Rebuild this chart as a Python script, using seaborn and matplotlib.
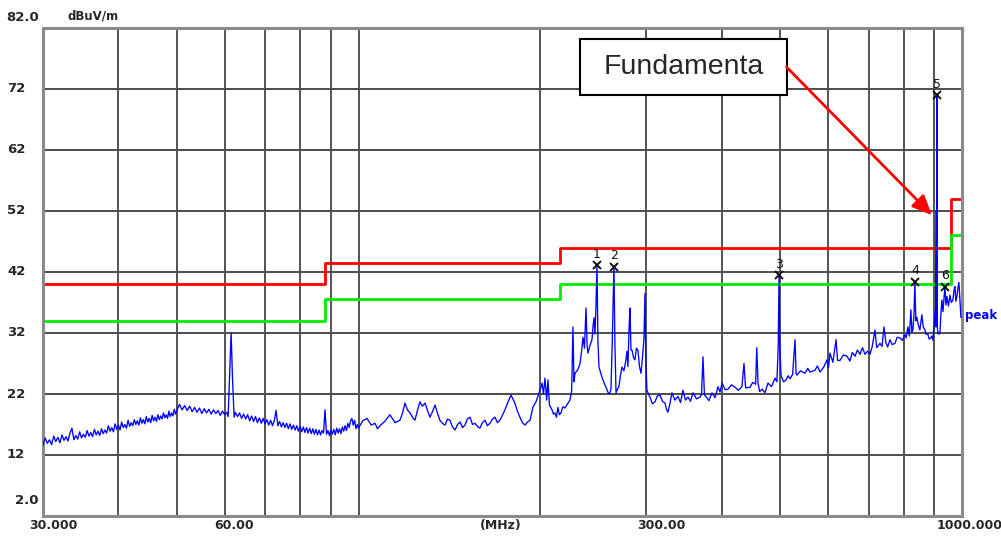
import matplotlib
matplotlib.use("Agg")
import matplotlib.pyplot as plt
from matplotlib.patches import Rectangle
from matplotlib.ticker import FixedLocator, NullLocator
import seaborn as sns
import pandas as pd

# Peak-detector sweep (MHz, dBuV/m), split by band
band_a_freq = [
    30.00, 30.25, 30.50, 30.75, 31.00, 31.25, 31.50, 31.75, 32.00, 32.25,
    32.50, 32.75, 33.00, 33.25, 33.50, 33.75, 34.00, 34.25, 34.50, 34.75,
    35.00, 35.25, 35.50, 35.75, 36.00, 36.25, 36.50, 36.75, 37.00, 37.25,
    37.50, 37.75, 38.00, 38.25, 38.50, 38.75, 39.00, 39.25, 39.50, 39.75,
    40.00, 40.25, 40.50, 40.75, 41.00, 41.25, 41.50, 41.75, 42.00, 42.25,
    42.50, 42.75, 43.00, 43.25, 43.50, 43.75, 44.00, 44.25, 44.50, 44.75,
    45.00, 45.25, 45.50, 45.75, 46.00, 46.25, 46.50, 46.75, 47.00, 47.25,
    47.50, 47.75, 48.00, 48.25, 48.50, 48.75, 49.00, 49.25, 49.50, 49.75,
    50.00,
]
band_a_level = [
    13.6, 14.8, 13.9, 14.5, 13.7, 15.1, 14.2, 14.9, 14.0, 15.3,
    14.4, 15.0, 14.3, 15.6, 16.4, 14.5, 15.2, 14.6, 15.8, 14.8,
    15.4, 14.9, 16.0, 15.1, 15.7, 15.0, 16.2, 15.3, 15.9, 15.2,
    16.3, 15.5, 16.1, 15.6, 16.8, 15.9, 16.5, 15.8, 17.1, 16.2,
    16.9, 16.1, 17.4, 16.5, 17.0, 16.4, 17.7, 16.7, 17.3, 16.8,
    17.8, 17.0, 17.6, 16.9, 18.1, 17.2, 17.8, 17.1, 18.3, 17.4,
    18.0, 17.3, 18.5, 17.6, 18.2, 17.5, 18.6, 17.8, 18.4, 17.9,
    18.9, 18.1, 18.6, 18.0, 19.2, 18.3, 18.9, 18.4, 19.5, 18.7,
    19.3,
]

band_b_freq = [
    50.5, 51.0, 51.5, 52.0, 52.5, 53.0, 53.5, 54.0, 54.5, 55.0,
    55.5, 56.0, 56.5, 57.0, 57.5, 58.0, 58.5, 59.0, 59.5, 60.0,
    60.5, 60.8, 61.2, 61.5, 61.8, 62.2, 62.5, 63.0, 63.5, 64.0,
    64.5, 65.0, 65.5, 66.0, 66.5, 67.0, 67.5, 68.0, 68.5, 69.0,
    69.5, 70.0, 70.5, 71.0, 71.5, 72.0, 72.5, 73.0, 73.5, 74.0,
    74.5, 75.0, 75.5, 76.0, 76.5, 77.0, 77.5, 78.0, 78.5, 79.0,
    79.5, 80.0, 80.5, 81.0, 81.5, 82.0, 82.5, 83.0, 83.5, 84.0,
    84.5, 85.0, 85.5, 86.0, 86.5, 87.0, 87.5, 88.0, 88.5, 89.0,
    89.5, 90.0, 90.5, 91.0, 91.5, 92.0, 92.5, 93.0, 93.5, 94.0,
    94.5, 95.0, 95.5, 96.0, 96.5, 97.0, 97.5, 98.0, 98.5, 99.0,
    99.5, 100.0,
]
band_b_level = [
    20.3, 19.4, 20.1, 19.3, 20.0, 19.1, 19.8, 19.0, 19.7, 18.8,
    19.6, 18.9, 19.5, 18.7, 19.4, 18.8, 19.3, 18.5, 19.2, 18.6,
    19.0, 18.3, 26.0, 32.0, 25.0, 18.2, 19.0, 18.3, 18.9, 18.0,
    18.7, 17.9, 18.6, 17.6, 18.4, 17.5, 18.3, 17.3, 18.1, 17.2,
    18.0, 17.1, 17.8, 16.9, 17.7, 16.8, 17.6, 19.3, 16.8, 17.5,
    16.6, 17.3, 16.5, 17.2, 16.3, 17.1, 16.2, 16.9, 16.1, 16.8,
    15.9, 16.7, 15.8, 16.6, 15.7, 16.5, 15.6, 16.4, 15.5, 16.3,
    15.4, 16.2, 15.3, 16.1, 15.3, 16.0, 15.6, 19.4, 15.4, 16.0,
    15.2, 16.1, 15.4, 16.2, 15.3, 16.4, 15.6, 16.3, 15.5, 16.6,
    15.9, 16.8, 16.0, 17.2, 16.5, 17.6, 18.0, 16.9, 17.7, 16.3,
    17.0, 16.4,
]

band_c_freq = [
    101.6, 103.3, 105.0, 106.5, 107.5, 108.5, 110.5, 112.7, 115.0, 117.1,
    118.2, 119.4, 120.5, 121.7, 123.0, 124.0, 125.2, 126.4, 127.6, 128.9,
    130.1, 131.3, 132.6, 133.9, 135.1, 136.4, 137.7, 139.1, 140.4, 141.7,
    143.1, 144.5, 145.9, 147.3, 148.7, 150.1, 151.5, 153.0, 154.5, 155.9,
    157.4, 158.9, 160.4, 162.0, 163.5, 165.1, 166.7, 168.3, 169.9, 171.5,
    173.1, 174.8, 176.9, 178.9, 180.2, 181.6, 183.3, 185.1, 186.9, 188.7,
    190.5, 192.4, 194.6, 196.8, 199.1,
]
band_c_level = [
    17.6, 18.0, 16.9, 17.2, 16.3, 16.8, 17.5, 18.6, 17.3, 17.7,
    18.8, 20.5, 19.4, 18.9, 18.1, 17.7, 19.3, 20.7, 20.0, 20.5,
    19.3, 18.2, 19.1, 20.2, 18.9, 17.7, 17.2, 16.9, 17.9, 17.7,
    16.6, 16.1, 17.0, 17.4, 16.5, 16.9, 17.9, 18.2, 17.0, 17.2,
    16.7, 16.4, 17.3, 17.7, 16.8, 17.2, 17.9, 18.2, 17.3, 17.7,
    18.5, 19.4, 20.7, 21.8, 21.2, 20.5, 19.2, 18.2, 17.3, 16.9,
    17.4, 17.7, 19.9, 20.7, 22.2,
]

band_d_freq = [
    199.8, 201.4, 202.5, 203.7, 205.0, 206.0, 207.2, 209.2, 210.4, 211.6,
    212.8, 214.0, 215.2, 216.5, 218.0, 219.8, 222.0, 224.0, 225.5, 226.6,
    227.5, 228.4, 231.0, 232.8, 234.2, 235.5, 236.8, 238.2, 239.2, 240.0,
    241.9, 243.7, 244.6, 245.6, 246.5, 247.4, 248.4, 249.3, 250.3, 252.2,
    254.1, 256.5, 259.0, 260.5, 262.0, 263.2, 264.0, 265.0, 266.0, 267.1,
    268.6, 270.1, 271.6, 273.2, 275.3, 277.4, 278.5, 279.5, 280.8, 281.7,
    282.8, 283.9, 285.5, 287.1, 288.7, 290.4, 292.1, 293.8, 295.5, 297.2,
    298.3, 299.4, 300.6, 302.3, 304.0, 306.9, 309.8, 312.8, 315.9, 319.0,
    322.0, 323.8, 325.6, 328.1, 330.6, 334.4, 338.3, 341.6, 344.8, 348.2,
    351.5, 354.9, 358.3, 363.1, 368.0, 370.1, 372.2, 374.3, 376.5, 380.8,
    385.2, 389.7, 394.2, 397.2, 400.3,
]
band_d_level = [
    22.6, 23.8, 22.0, 24.6, 21.0, 24.3, 20.2, 19.4, 18.7, 18.9,
    18.2, 19.8, 18.6, 18.9, 19.9, 19.7, 20.4, 21.0, 22.5, 33.0,
    24.0, 25.4, 26.0, 27.0, 29.0, 31.3, 29.5, 36.1, 30.0, 28.7,
    30.0, 30.9, 33.0, 34.5, 31.8, 36.3, 43.1, 30.5, 26.4, 25.3,
    24.3, 23.3, 22.3, 22.0, 22.8, 30.0, 35.5, 42.9, 30.0, 22.2,
    22.8, 23.2, 25.0, 26.4, 25.8, 27.6, 29.0, 26.5, 33.0, 36.1,
    29.2, 29.2, 28.0, 27.6, 29.5, 29.2, 26.5, 25.4, 28.0, 31.2,
    38.5, 27.0, 22.6, 22.0, 21.5, 20.4, 20.7, 21.7, 21.8, 20.8,
    20.5, 19.5, 19.0, 20.4, 22.2, 21.0, 21.6, 20.6, 22.6, 21.0,
    21.5, 20.8, 22.2, 21.2, 21.5, 21.9, 28.1, 21.8, 21.6, 20.9,
    22.2, 21.4, 23.2, 22.3, 23.8,
]

band_e_freq = [
    405.0, 409.6, 415.0, 420.7, 426.0, 431.8, 435.2, 438.0, 445.3, 450.0,
    455.0, 457.0, 459.2, 462.0, 466.3, 471.5, 477.0, 483.5, 489.9, 493.5,
    496.0, 497.5, 499.0, 501.3, 506.0, 510.9, 515.0, 518.8, 524.0, 528.8,
    531.0, 532.8, 540.0, 549.3, 555.0, 560.0, 570.6, 576.0, 581.6, 590.0,
    597.4, 600.7, 604.3, 611.0, 618.4, 622.0, 627.8, 636.0, 644.8, 652.0,
    658.0, 664.9, 671.0, 677.7, 684.0, 690.7, 697.0, 703.9, 710.0, 717.4,
    722.0, 731.3, 737.0, 742.5, 748.0, 753.0, 759.6, 766.0, 774.2, 781.0,
    789.2, 796.0, 804.3, 808.0, 813.5, 818.0, 822.8, 826.0, 829.1, 832.5,
    835.4, 838.5, 841.8, 846.5, 851.5, 855.0, 858.0, 862.5, 867.9, 872.0,
    877.8, 882.5, 887.9, 891.5, 894.7, 898.0, 903.5, 905.0, 906.5, 907.3,
    908.6, 910.0, 912.2, 915.5, 919.2, 922.5, 926.2, 930.0, 933.5, 936.9,
    940.5, 944.1, 949.5, 954.9, 960.0, 965.9, 970.0, 973.4, 977.0, 980.8,
    984.5, 988.3, 992.0, 995.9, 1000.0,
]
band_e_level = [
    22.7, 22.8, 23.5, 23.1, 22.6, 23.2, 27.0, 23.0, 23.1, 23.9,
    23.6, 29.6, 23.8, 22.4, 22.8, 22.2, 23.8, 23.2, 24.6, 24.0,
    30.0, 41.5, 30.0, 25.1, 24.0, 24.3, 25.0, 24.5, 25.2, 30.9,
    25.3, 25.1, 25.8, 25.4, 26.2, 25.6, 25.9, 26.6, 25.6, 26.4,
    27.6, 26.3, 28.7, 27.2, 30.9, 27.5, 27.5, 28.4, 28.2, 27.4,
    28.8, 28.2, 29.2, 28.5, 29.6, 28.5, 29.0, 28.5, 29.8, 32.5,
    29.6, 30.3, 29.8, 33.0, 30.4, 29.7, 30.9, 30.1, 30.3, 31.3,
    31.2, 30.8, 31.7, 31.2, 33.0, 31.5, 35.8, 32.2, 32.5, 35.0,
    40.4, 34.0, 34.6, 33.3, 32.5, 33.8, 35.0, 33.0, 32.5, 31.8,
    31.8, 31.0, 31.2, 31.5, 30.8, 32.5, 36.0, 33.0, 52.0, 33.5,
    71.0, 33.0, 32.0, 31.8, 32.0, 35.0, 37.4, 35.5, 37.5, 39.6,
    36.6, 38.0, 36.4, 38.2, 37.0, 37.4, 39.0, 39.6, 37.2, 38.0,
    39.4, 40.3, 37.5, 34.6, 34.5,
]

freq_mhz = band_a_freq + band_b_freq + band_c_freq + band_d_freq + band_e_freq
level_dbuv = band_a_level + band_b_level + band_c_level + band_d_level + band_e_level

# Radiated-emission limit and the 6 dB warning line (step edges in MHz)
limit_edges_mhz = [30, 88, 216, 960, 1000]
limit_level = [40.0, 43.5, 46.0, 54.0, 54.0]
margin_level = [34.0, 37.5, 40.0, 48.0, 48.0]

# Marked peaks
marker_ids = ["1", "2", "3", "4", "5", "6"]
marker_freq = [248.4, 265.0, 497.5, 835.4, 908.6, 936.9]
marker_level = [43.1, 42.9, 41.5, 40.4, 71.0, 39.6]

grid_freqs = [40, 50, 60, 70, 80, 90, 100, 200, 300, 400, 500, 600, 700, 800, 900]
level_ticks = [12, 22, 32, 42, 52, 62, 72]

sns.set_style("white")
plt.rcParams["font.family"] = ["DejaVu Sans"]

W, H = 1001, 536
fig = plt.figure(figsize=(W / 100, H / 100), dpi=100)
ax = fig.add_axes([43 / W, 20 / H, 919 / W, 488 / H])
ax.set_xscale("log")
ax.set_xlim(30, 1000)
ax.set_ylim(2, 82)

# grid
ax.xaxis.set_major_locator(FixedLocator(grid_freqs))
ax.xaxis.set_minor_locator(NullLocator())
ax.yaxis.set_major_locator(FixedLocator(level_ticks))
ax.tick_params(length=0, labelleft=False, labelbottom=False)
ax.grid(True, axis="x", color="#262626", lw=1.1)
ax.grid(True, axis="y", color="#4d4d4d", lw=1.4)
ax.set_axisbelow(True)
for sp in ax.spines.values():
    sp.set_color("#8a8a8a")
    sp.set_linewidth(2.2)

trace = pd.DataFrame({"freq": freq_mhz, "level": level_dbuv})
sns.lineplot(data=trace, x="freq", y="level", sort=False, estimator=None,
             color="#0000ff", lw=0.95, ax=ax, zorder=3)
sns.lineplot(x=limit_edges_mhz, y=limit_level, drawstyle="steps-post",
             color="#ff0000", lw=2.0, ax=ax, zorder=2)
sns.lineplot(x=limit_edges_mhz, y=margin_level, drawstyle="steps-post",
             color="#00ee00", lw=2.0, ax=ax, zorder=2)
ax.set_xlabel("")
ax.set_ylabel("")

# peak markers with their numbers
ax.plot(marker_freq, marker_level, ls="none", marker="x", ms=6, mew=1.4,
        color="#111111", zorder=4)
for mid, f, lv in zip(marker_ids, marker_freq, marker_level):
    ax.annotate(mid, xy=(f, lv), xytext=(0, 11), textcoords="offset pixels",
                ha="center", va="center", fontsize=9, color="#111111", zorder=4)

# axis labels
ytf = ax.get_yaxis_transform()
for v in level_ticks:
    ax.text(-0.0392, v, str(v), transform=ytf, ha="left", va="center",
            fontsize=9.5, fontweight="bold", clip_on=False)
ax.text(-0.0044, 83.8, "82.0", transform=ytf, ha="right", va="center",
        fontsize=9.5, fontweight="bold", clip_on=False)
ax.text(-0.0044, 4.6, "2.0", transform=ytf, ha="right", va="center",
        fontsize=9.5, fontweight="bold", clip_on=False)
ax.text(0.027, 83.9, "dBuV/m", transform=ytf, ha="left", va="center",
        fontsize=8.5, fontweight="bold", clip_on=False)

xtf = ax.get_xaxis_transform()
for f, lab in [(28.5, "30.000"), (57.7, "60.00"), (158.6, "(MHz)"),
               (289.6, "300.00"), (909.0, "1000.000")]:
    ax.text(f, -0.019, lab, transform=xtf, ha="left", va="center",
            fontsize=9, fontweight="bold", clip_on=False)

ax.text(1010, 34.8, "peak", ha="left", va="center", color="#0000ff",
        fontsize=8.5, fontweight="bold", clip_on=False)

# callout for the fundamental
ax.add_patch(Rectangle((233.2, 71.0), 512.0 - 233.2, 80.2 - 71.0,
                       facecolor="white", edgecolor="black", lw=1.5, zorder=6))
ax.text(345.6, 75.6, "Fundamenta", ha="center", va="center",
        family="Liberation Sans", fontsize=20.5, zorder=7)
ax.annotate("", xy=(892, 51.3), xytext=(512, 75.6),
            arrowprops=dict(arrowstyle="-|>,head_length=0.8,head_width=0.35",
                            color="#ff0000", lw=2.0, mutation_scale=15,
                            shrinkA=0, shrinkB=0),
            zorder=7)

fig.savefig("out.png", dpi=100)
